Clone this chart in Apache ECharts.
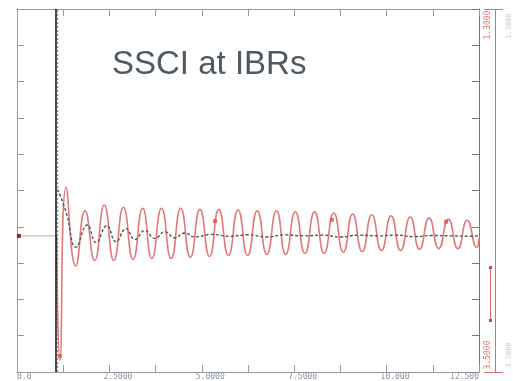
<!DOCTYPE html>
<html><head><meta charset="utf-8">
<script src="https://cdn.jsdelivr.net/npm/echarts@6/dist/echarts.min.js"></script>
<style>html,body{margin:0;padding:0;background:#fff}#c{width:513px;height:381px}</style>
</head><body><div id="c"></div>
<script>
// x ticks (time) and their labels (label on every second tick)
const xTickLabels = ["0.0","","2.5000","","5.0000","","7.5000","","10.000","","12.500"];
const xMin = 0, xMax = 12.5, xInterval = 1.25;
const yMin = 0, yMax = 10, yInterval = 1;
// red waveform: extremes [x, y]
const redX = [1.07,1.16,1.33,1.59,1.84,2.10,2.36,2.62,2.88,3.14,3.40,3.65,3.91,4.17,4.43,4.69,4.95,5.21,5.46,5.72,5.98,6.24,6.50,6.76,7.02,7.27,7.53,7.79,8.05,8.31,8.57,8.83,9.08,9.34,9.60,9.86,10.12,10.38,10.64,10.89,11.15,11.41,11.67,11.93,12.18,12.44,12.50];
const redY = [3.75,0.33,5.09,2.92,4.44,3.07,4.60,3.07,4.54,3.10,4.51,3.13,4.51,3.13,4.51,3.16,4.48,3.18,4.48,3.21,4.46,3.21,4.44,3.24,4.44,3.24,4.41,3.27,4.41,3.27,4.38,3.30,4.35,3.32,4.33,3.35,4.30,3.35,4.27,3.38,4.24,3.40,4.21,3.40,4.18,3.43,3.68];
// dark dashed waveform [x, y]
const darkX = [1.10,1.33,1.60,1.90,2.14,2.43,2.68,2.95,3.19,3.46,3.73,4.00,4.27,4.54,4.81,5.25,5.75,6.25,6.75,7.25,7.75,8.25,8.75,9.25,9.75,10.25,10.75,11.25,11.75,12.25,12.50];
const darkY = [5.03,4.40,3.44,4.05,3.57,4.03,3.59,3.95,3.65,3.90,3.68,3.86,3.70,3.83,3.72,3.79,3.74,3.78,3.72,3.78,3.75,3.77,3.72,3.77,3.75,3.77,3.73,3.76,3.75,3.74,3.75];
// lead-in baseline before the event
const leadX = [0.0,1.06];
const leadY = [3.75,3.75];
const eventX = 1.06;
// marked samples on the red trace
const redMarkX = [1.16,5.36,8.52,11.61];
const redMarkY = [0.44,4.16,4.19,4.14];

const zip = (a,b)=>a.map((v,i)=>[v,b[i]]);
const chart = echarts.init(document.getElementById('c'), null, {renderer:'canvas'});
const axisCol = '#9a9a9a';
chart.setOption({
  animation:false,
  grid:{left:17, top:9, right:34, bottom:7, show:false},
  xAxis:[{
    type:'value', min:xMin, max:xMax, interval:xInterval, position:'bottom',
    axisLine:{show:true, onZero:false, lineStyle:{color:axisCol, width:1}},
    axisTick:{show:true, inside:true, length:7, lineStyle:{color:axisCol}},
    splitLine:{show:false},
    axisLabel:{show:true, margin:1, fontSize:8, fontFamily:'DejaVu Sans Mono', color:'#8a96a3', align:'left', padding:[0,0,0,-6],
      alignMaxLabel:'right',
      rich:{first:{fontSize:8, fontFamily:'DejaVu Sans Mono', color:'#8a96a3', padding:[0,0,0,6]}},
      formatter:(v)=>{const i=Math.round((v-xMin)/xInterval); const t=xTickLabels[i]||''; return i===0?('{first|'+t+'}'):t;}}
  },{
    type:'value', min:xMin, max:xMax, interval:xInterval, position:'top',
    axisLine:{show:true, onZero:false, lineStyle:{color:axisCol, width:1}},
    axisTick:{show:true, inside:true, length:7, lineStyle:{color:axisCol}},
    splitLine:{show:false}, axisLabel:{show:false}
  }],
  yAxis:[{
    type:'value', min:yMin, max:yMax, interval:yInterval, position:'left',
    axisLine:{show:true, onZero:false, lineStyle:{color:axisCol}},
    axisTick:{show:true, inside:true, length:7, lineStyle:{color:axisCol}},
    splitLine:{show:false}, axisLabel:{show:false}
  },{
    type:'value', min:yMin, max:yMax, interval:yInterval, position:'right',
    axisLine:{show:true, onZero:false, lineStyle:{color:'#777'}},
    axisTick:{show:true, inside:true, length:7, lineStyle:{color:'#777'}},
    splitLine:{show:false}, axisLabel:{show:false}
  }],
  series:[
    {type:'line', data:zip(leadX,leadY), symbol:'none', lineStyle:{color:'#b0b0b0', width:1}, z:2,
      markPoint:{symbol:'rect', symbolSize:4, data:[{coord:[leadX[0]+0.05,leadY[0]]}], itemStyle:{color:'#a02020'}, label:{show:false}}},
    {type:'line', data:zip(redX,redY), smooth:0.55, symbol:'none', lineStyle:{color:'#e3797b', width:1.6}, z:3},
    {type:'line', data:zip(darkX,darkY), smooth:0.5, symbol:'none', lineStyle:{color:'#555', width:1.4, type:[3,2]}, z:4,
      markLine:{silent:true, symbol:'none', label:{show:false}, lineStyle:{color:'#111', width:1.5, type:'solid'},
        data:[{xAxis:eventX}]}},
    {type:'scatter', data:zip(redMarkX,redMarkY), symbol:'rect', symbolSize:4, itemStyle:{color:'#e05050'}, z:5},
    {type:'line', data:[[eventX+0.04,yMin],[eventX+0.04,yMax]], symbol:'none', lineStyle:{color:'#d06060', width:1, type:[2,2]}, z:5}
  ],
  graphic:[
    {type:'text', left:112, top:48, style:{text:'SSCI at IBRs', font:'33px "Liberation Sans", Arial, sans-serif', fill:'#4d5963'}},
    {type:'line', shape:{x1:495.5,y1:9,x2:495.5,y2:373}, style:{stroke:'#e06a6a', lineWidth:1}},
    {type:'line', shape:{x1:484,y1:9.5,x2:503,y2:9.5}, style:{stroke:'#e06a6a', lineWidth:1}},
    {type:'line', shape:{x1:484,y1:372.5,x2:503,y2:372.5}, style:{stroke:'#e06a6a', lineWidth:1}},
    {type:'text', x:488, y:25, rotation:Math.PI/2, style:{text:'1.3000', font:'8px "DejaVu Sans Mono", monospace', fill:'#e06a6a', align:'center', verticalAlign:'middle'}},
    {type:'text', x:488, y:355, rotation:Math.PI/2, style:{text:'3.5000', font:'8px "DejaVu Sans Mono", monospace', fill:'#e06a6a', align:'center', verticalAlign:'middle'}},
    {type:'line', shape:{x1:490.5,y1:268,x2:490.5,y2:321}, style:{stroke:'#e06a6a', lineWidth:1}},
    {type:'rect', shape:{x:489,y:266,width:3,height:3}, style:{fill:'#d04040'}},
    {type:'rect', shape:{x:489,y:319,width:3,height:3}, style:{fill:'#d04040'}},
    {type:'text', x:509, y:26, rotation:Math.PI/2, style:{text:'1.3000', font:'7px "DejaVu Sans Mono", monospace', fill:'#c8cdd2', align:'center', verticalAlign:'middle'}},
    {type:'text', x:509, y:355, rotation:Math.PI/2, style:{text:'3.5000', font:'7px "DejaVu Sans Mono", monospace', fill:'#c8cdd2', align:'center', verticalAlign:'middle'}}
  ]
});
</script></body></html>
